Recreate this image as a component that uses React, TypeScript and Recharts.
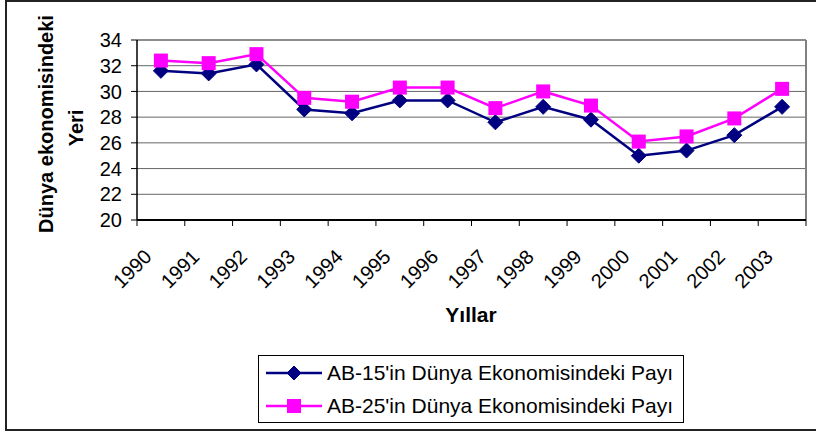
import React from "react";
import {
  CartesianGrid,
  Legend,
  Line,
  LineChart,
  ReferenceLine,
  XAxis,
  YAxis,
} from "recharts";

const years = [
  "1990", "1991", "1992", "1993", "1994", "1995", "1996",
  "1997", "1998", "1999", "2000", "2001", "2002", "2003",
];
const ab15Share = [31.6, 31.4, 32.1, 28.6, 28.3, 29.3, 29.3, 27.6, 28.8, 27.8, 25.0, 25.4, 26.6, 28.8];
const ab25Share = [32.4, 32.2, 32.9, 29.5, 29.2, 30.3, 30.3, 28.7, 30.0, 28.9, 26.1, 26.5, 27.9, 30.2];
const yTicks = [20, 22, 24, 26, 28, 30, 32, 34];
// category boundaries (tick marks sit between the years)
const bandEdges = years.map((_, i) => i).concat(years.length);
const seriesNames = [
  "AB-15'in Dünya Ekonomisindeki Payı",
  "AB-25'in Dünya Ekonomisindeki Payı",
];

const NAVY = "#000080";
const MAGENTA = "#FF00FF";
const FONT = "'Liberation Sans', Arial, sans-serif";

const WIDTH = 816;
const HEIGHT = 432;
const MARGIN = { top: 40, right: 10, bottom: 132, left: 0 };
const Y_AXIS_WIDTH = 137;
const HALF_BAND = (WIDTH - MARGIN.right - Y_AXIS_WIDTH) / (years.length * 2);

const rows = years.map((year, i) => ({
  year,
  pos: i + 0.5,
  ab15: ab15Share[i],
  ab25: ab25Share[i],
}));

function Diamond({ cx, cy, r = 7.5 }: { cx: number; cy: number; r?: number }) {
  return (
    <polygon
      points={`${cx},${cy - r} ${cx + r},${cy} ${cx},${cy + r} ${cx - r},${cy}`}
      fill={NAVY}
      stroke={NAVY}
    />
  );
}

function Square({ cx, cy, s = 14 }: { cx: number; cy: number; s?: number }) {
  return <rect x={cx - s / 2} y={cy - s / 2} width={s} height={s} fill={MAGENTA} />;
}

function YearTick(props: any) {
  const { x, y, payload } = props;
  const label = years[payload.value];
  if (label === undefined) return <g />;
  const ax = x + HALF_BAND - 8;
  const ay = y + 30;
  return (
    <text
      x={ax}
      y={ay}
      transform={`rotate(-45, ${ax}, ${ay})`}
      textAnchor="end"
      fontSize={20}
      fill="#000"
    >
      {label}
    </text>
  );
}

function LegendBox() {
  return (
    <div
      style={{
        position: "relative",
        width: 426,
        height: 68,
        border: "1px solid #000",
        boxSizing: "border-box",
        background: "#fff",
        fontFamily: FONT,
        fontSize: 21,
        color: "#000",
      }}
    >
      {seriesNames.map((name, i) => (
        <div
          key={name}
          style={{
            position: "absolute",
            left: 0,
            top: 3 + i * 33,
            height: 28,
            display: "flex",
            alignItems: "center",
            whiteSpace: "nowrap",
          }}
        >
          <svg width={66} height={28}>
            <line
              x1={7}
              x2={63}
              y1={14}
              y2={14}
              stroke={i === 0 ? NAVY : MAGENTA}
              strokeWidth={2.5}
            />
            {i === 0 ? <Diamond cx={35} cy={14} r={7} /> : <Square cx={35} cy={14} s={14} />}
          </svg>
          <span style={{ marginLeft: 2 }}>{name}</span>
        </div>
      ))}
    </div>
  );
}

export default function App() {
  return (
    <div
      style={{
        position: "relative",
        width: WIDTH,
        height: HEIGHT,
        overflow: "hidden",
        fontFamily: FONT,
        background: "#fff",
      }}
    >
      <style>{"body{margin:0}"}</style>
      <div
        style={{
          position: "absolute",
          left: 5,
          top: 0,
          width: 814,
          height: 431,
          border: "2px solid #222",
          boxSizing: "border-box",
          pointerEvents: "none",
        }}
      />
      <LineChart width={WIDTH} height={HEIGHT} data={rows} margin={MARGIN}>
        <CartesianGrid vertical={false} stroke="#666" />
        <XAxis
          type="number"
          dataKey="pos"
          domain={[0, years.length]}
          ticks={bandEdges}
          interval={0}
          height={80}
          tickSize={6}
          tickMargin={2}
          tickLine={{ stroke: "#000" }}
          axisLine={{ stroke: "#000", strokeWidth: 2 }}
          tick={YearTick}
          label={() => (
            <text
              x={471}
              y={322}
              textAnchor="middle"
              fontSize={21}
              fontWeight="bold"
              fill="#000"
            >
              Yıllar
            </text>
          )}
        />
        <YAxis
          domain={[20, 34]}
          ticks={yTicks}
          interval={0}
          width={Y_AXIS_WIDTH}
          tickSize={6}
          tickMargin={9}
          tickLine={{ stroke: "#000" }}
          axisLine={{ stroke: "#000", strokeWidth: 1.5 }}
          tick={{ fill: "#000", fontSize: 20 }}
          label={() => (
            <g fontWeight="bold" fontSize={20} fill="#000">
              <text transform="translate(53,124) rotate(-90)" textAnchor="middle">
                Dünya ekonomisindeki
              </text>
              <text transform="translate(83,128) rotate(-90)" textAnchor="middle">
                Yeri
              </text>
            </g>
          )}
        />
        <ReferenceLine x={years.length} stroke="#808080" strokeWidth={2} />
        <ReferenceLine y={34} stroke="#808080" strokeWidth={1.5} />
        <Line
          type="linear"
          dataKey="ab15"
          name={seriesNames[0]}
          stroke={NAVY}
          strokeWidth={2.5}
          dot={(p: any) => <Diamond key={`d-${p.index}`} cx={p.cx} cy={p.cy} />}
          isAnimationActive={false}
        />
        <Line
          type="linear"
          dataKey="ab25"
          name={seriesNames[1]}
          stroke={MAGENTA}
          strokeWidth={2.5}
          dot={(p: any) => <Square key={`s-${p.index}`} cx={p.cx} cy={p.cy} />}
          isAnimationActive={false}
        />
        <Legend
          layout="horizontal"
          verticalAlign="middle"
          align="center"
          wrapperStyle={{ left: 258, top: 355, width: 426, height: 68 }}
          content={() => <LegendBox />}
        />
      </LineChart>
    </div>
  );
}
